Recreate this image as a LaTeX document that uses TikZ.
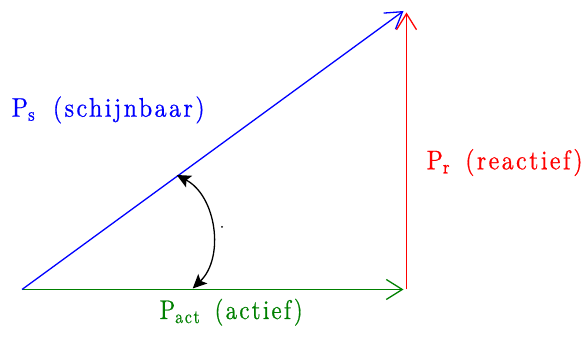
\documentclass[tikz,border=0pt]{standalone}
\usepackage{fontspec}
\usepackage{graphicx}
\usetikzlibrary{arrows.meta}
\definecolor{pgreen}{RGB}{0,128,0}
\newfontfamily\labfont[LetterSpace=10,FakeBold=0.6]{lmroman10-regular.otf}
\newcommand{\labtext}[2]{\resizebox*{#1}{27pt}{\fontsize{25}{30}\labfont #2}}
\tikzset{
  vec/.style={line width=1.3pt,-{Straight Barb[length=16pt,width=20pt,line width=1.3pt]}},
  anglearc/.style={line width=1.3pt,{Stealth[length=14pt,width=13pt,inset=3pt]}-{Stealth[length=14pt,width=13pt,inset=3pt]}},
  lab/.style={inner sep=0pt,anchor=base west},
}
\begin{document}
\begin{tikzpicture}[x=1pt,y=1pt]
\useasboundingbox (0,0) rectangle (584,337);
\coordinate (O) at (22,47.5);
\coordinate (G) at (403.5,47.5);
\coordinate (Rb) at (406.5,47.5);
\coordinate (Rt) at (406.5,324.5);
\coordinate (Bt) at (403.5,326);
\coordinate (A) at (176.7,162);
\coordinate (B) at (192.7,48.5);
\draw[vec,pgreen] (O) -- (G);
\draw[vec,red] (Rb) -- (Rt);
\draw[vec,blue] (O) -- (Bt);
\draw[anglearc] (A) to[bend left=54] (B);
\node[circle,fill,inner sep=0pt,minimum size=2pt] (dot) at (222,110) {};
\node[lab,text=blue] (ps) at (11.5,220.3) {\labtext{193pt}{P\textsubscript{s}\hspace{0.3em} (schijnbaar)}};
\node[lab,text=red] (pr) at (426.5,167.7) {\labtext{156pt}{P\textsubscript{r}\hspace{0.2em} (reactief)}};
\node[lab,text=pgreen] (pa) at (159.5,18) {\labtext{143pt}{P\textsubscript{act}\hspace{0.2em} (actief)}};
\end{tikzpicture}
\end{document}
